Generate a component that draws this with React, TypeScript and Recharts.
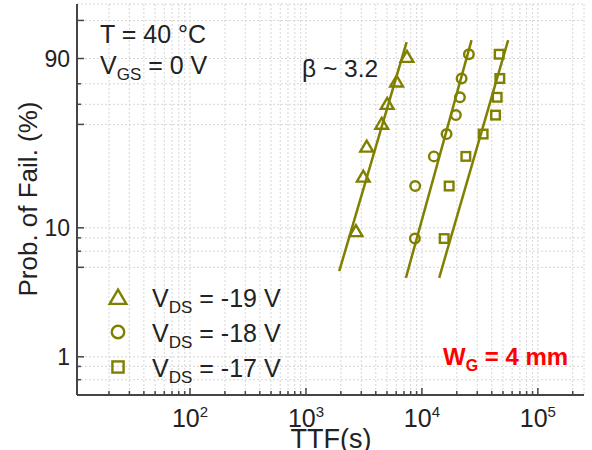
import { ScatterChart, Scatter, XAxis, YAxis, CartesianGrid } from 'recharts';

const OLIVE = '#808000';
const AXIS = '#454545';
const FONT = '"Liberation Sans", Arial, sans-serif';

// time to failure (s) and probability of failure (%) per drain bias
const ttf19 = [2700, 3120, 3340, 4500, 5020, 6050, 7430];
const prob19 = [9.5, 23.6, 37.2, 50.6, 63.7, 78.2, 90.8];
const ttf18 = [8700, 8750, 12680, 16320, 19630, 21270, 21990, 25420];
const prob18 = [8.3, 20.2, 32.1, 44.1, 56.0, 67.9, 79.8, 91.7];
const ttf17 = [15560, 17180, 23930, 33740, 43150, 44550, 47000, 46380];
const prob17 = [8.3, 20.2, 32.1, 44.1, 56.0, 67.9, 79.8, 91.7];

// fitted Weibull lines (end points)
const fitTtf19 = [1936, 7380];
const fitProb19 = [4.67, 95.5];
const fitTtf18 = [7278, 26800];
const fitProb18 = [4.15, 96.0];
const fitTtf17 = [14090, 55450];
const fitProb17 = [4.15, 96.0];

const legendLabels = ['-19', '-18', '-17'];

const xMajor = [100, 1000, 10000, 100000];
const xTicks = [10, 100, 1000, 10000, 100000]
  .flatMap((d) => [1, 2, 3, 4, 5, 6, 7, 8, 9].map((m) => m * d))
  .filter((v) => v >= 20 && v <= 200000);

const yTickProbs = [0.66, 0.84, 1, 5, 6.65, 8.4, 10, 50, 63.2, 76.6, 90, 99];
const yMajor = [1, 5, 10, 50, 90, 99];
const yLabeled = [1, 10, 90];

// Weibull probability scale
const weib = (p: number) => Math.log(-Math.log(1 - p / 100));
const yTicks = yTickProbs.map(weib);

const toPoints = (ttf: number[], prob: number[]) =>
  ttf.map((t, i) => ({ t, w: weib(prob[i]) }));

const Tri = ({ cx, cy, s = 1 }: any) => (
  <path
    d={`M${cx},${cy - 5.6 * s} L${cx + 6.4 * s},${cy + 5.3 * s} L${cx - 6.4 * s},${cy + 5.3 * s} Z`}
    fill="none"
    stroke={OLIVE}
    strokeWidth={2.4}
  />
);
const Circ = ({ cx, cy, s = 1 }: any) => (
  <circle cx={cx} cy={cy} r={4.8 * s} fill="none" stroke={OLIVE} strokeWidth={2.4} />
);
const Sq = ({ cx, cy, s = 1 }: any) => (
  <rect x={cx - 4.3 * s} y={cy - 4.3 * s} width={8.6 * s} height={8.6 * s} fill="none" stroke={OLIVE} strokeWidth={2.4} />
);

const XTick = ({ x, y, payload }: any) => {
  const v = payload.value;
  const major = xMajor.includes(v);
  return (
    <g>
      <line x1={x} x2={x} y1={y} y2={y - (major ? 7 : 4)} stroke={AXIS} strokeWidth={1.5} />
      {major && (
        <text x={x} y={y + 32} textAnchor="middle" fontSize={25} fill="#222" fontFamily={FONT}>
          10
          <tspan dy={-10} fontSize={15}>{Math.round(Math.log10(v))}</tspan>
        </text>
      )}
    </g>
  );
};

const LeftTick = ({ x, y, index }: any) => {
  const p = yTickProbs[index];
  const major = yMajor.includes(p);
  return (
    <g>
      <line x1={x} x2={x + (major ? 7 : 4)} y1={y} y2={y} stroke={AXIS} strokeWidth={1.5} />
      {yLabeled.includes(p) && (
        <text x={x - 7} y={y + 8} textAnchor="end" fontSize={23} fill="#222" fontFamily={FONT}>
          {p}
        </text>
      )}
    </g>
  );
};

const RightTick = ({ x, y, index }: any) => {
  const major = yMajor.includes(yTickProbs[index]);
  return <line x1={x} x2={x - (major ? 7 : 4)} y1={y} y2={y} stroke={AXIS} strokeWidth={1.5} />;
};

const yDomain = [weib(0.5), weib(99.8)];
const xDomain = [10.6, 250000];

export default function App() {
  const fitLine = { stroke: OLIVE, strokeWidth: 2.5 };
  const none = () => <g />;
  const markers = [Tri, Circ, Sq];
  return (
    <div style={{ position: 'absolute', left: 0, top: 0, width: 592, height: 450, background: '#fff' }}>
      <ScatterChart width={592} height={450} margin={{ top: 4, right: 8, bottom: 15, left: 17 }}>
        <CartesianGrid stroke="#d6d6d6" strokeDasharray="2 2" />
        <XAxis
          dataKey="t"
          type="number"
          scale="log"
          domain={xDomain}
          allowDataOverflow
          ticks={xTicks}
          interval={0}
          height={40}
          tickSize={0}
          tickMargin={0}
          tickLine={false}
          tick={<XTick />}
          axisLine={{ stroke: AXIS, strokeWidth: 2 }}
        />
        <XAxis
          xAxisId="top"
          orientation="top"
          type="number"
          scale="log"
          domain={xDomain}
          allowDataOverflow
          height={0}
          tick={false}
          tickLine={false}
          axisLine={{ stroke: AXIS, strokeWidth: 2 }}
        />
        <YAxis
          dataKey="w"
          type="number"
          domain={yDomain}
          allowDataOverflow
          ticks={yTicks}
          interval={0}
          width={60}
          tickSize={0}
          tickMargin={0}
          tickLine={false}
          tick={<LeftTick />}
          axisLine={{ stroke: AXIS, strokeWidth: 2 }}
        />
        <YAxis
          yAxisId="right"
          orientation="right"
          type="number"
          domain={yDomain}
          allowDataOverflow
          ticks={yTicks}
          interval={0}
          width={0}
          tickSize={0}
          tickMargin={0}
          tickLine={false}
          tick={<RightTick />}
          axisLine={{ stroke: AXIS, strokeWidth: 2 }}
        />
        <Scatter data={toPoints(fitTtf19, fitProb19)} line={fitLine} shape={none} isAnimationActive={false} />
        <Scatter data={toPoints(fitTtf18, fitProb18)} line={fitLine} shape={none} isAnimationActive={false} />
        <Scatter data={toPoints(fitTtf17, fitProb17)} line={fitLine} shape={none} isAnimationActive={false} />
        <Scatter data={toPoints(ttf19, prob19)} shape={(p: any) => <Tri cx={p.cx} cy={p.cy} />} isAnimationActive={false} />
        <Scatter data={toPoints(ttf18, prob18)} shape={(p: any) => <Circ cx={p.cx} cy={p.cy} />} isAnimationActive={false} />
        <Scatter data={toPoints(ttf17, prob17)} shape={(p: any) => <Sq cx={p.cx} cy={p.cy} />} isAnimationActive={false} />
      </ScatterChart>
      <svg
        width={592}
        height={450}
        style={{ position: 'absolute', left: 0, top: 0, pointerEvents: 'none' }}
        fontFamily={FONT}
        fill="#222"
      >
        <text x={37} y={199} fontSize={26} textAnchor="middle" transform="rotate(-90 37 199)">
          Prob. of Fail. (%)
        </text>
        <text x={331} y={448} fontSize={27} textAnchor="middle">TTF(s)</text>
        <text x={100} y={43} fontSize={25}>T = 40 °C</text>
        <text x={100} y={74} fontSize={25}>
          V<tspan dy={6} fontSize={17}>GS</tspan>
          <tspan dy={-6}> = 0 V</tspan>
        </text>
        <text x={302} y={77} fontSize={24.5}>β ~ 3.2</text>
        <text x={443} y={365} fontSize={24} fontWeight="bold" fill="#ff0000">
          W<tspan dy={6} fontSize={16}>G</tspan>
          <tspan dy={-6}> = 4 mm</tspan>
        </text>
        {legendLabels.map((lab, i) => {
          const M = markers[i];
          const cy = 297 + i * 35;
          return (
            <g key={lab}>
              <M cx={118} cy={cy} s={1.3} />
              <text x={152} y={cy + 10} fontSize={25}>
                V<tspan dy={6} fontSize={17}>DS</tspan>
                <tspan dy={-6}>{` = ${lab} V`}</tspan>
              </text>
            </g>
          );
        })}
      </svg>
    </div>
  );
}
